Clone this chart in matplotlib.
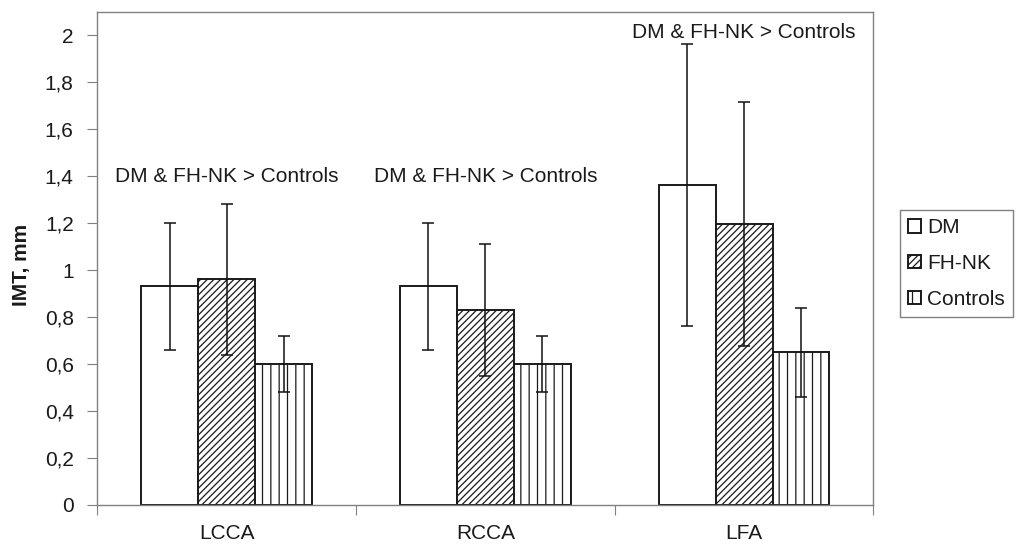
import numpy as np
import matplotlib
matplotlib.use("Agg")
import matplotlib.pyplot as plt

# values
sites = ["LCCA", "RCCA", "LFA"]
groups = ["DM", "FH-NK", "Controls"]
dm_mean = [0.93, 0.93, 1.36]
dm_err = [0.27, 0.27, 0.60]
fh_mean = [0.96, 0.83, 1.195]
fh_err = [0.32, 0.28, 0.52]
ctrl_mean = [0.60, 0.60, 0.65]
ctrl_err = [0.12, 0.12, 0.19]
note_text = "DM & FH-NK > Controls"
note_y = [1.376, 1.376, 1.988]
y_ticks = [0, 0.2, 0.4, 0.6, 0.8, 1.0, 1.2, 1.4, 1.6, 1.8, 2.0]
y_labels = ["0", "0,2", "0,4", "0,6", "0,8", "1", "1,2", "1,4", "1,6", "1,8", "2"]

plt.rcParams["font.family"] = ["Liberation Sans", "DejaVu Sans"]
plt.rcParams["font.size"] = 15
plt.rcParams["hatch.linewidth"] = 0.9
plt.rcParams["hatch.color"] = "#1a1a1a"

fig = plt.figure(figsize=(10.18, 5.46), dpi=100)
ax = fig.add_axes([0.0956, 0.0751, 0.7624, 0.9038])

x = np.arange(len(sites))
w = 0.22
means = [dm_mean, fh_mean, ctrl_mean]
errs = [dm_err, fh_err, ctrl_err]
hatches = ["", "/////", "||"]
offsets = [-w, 0, w]

for name, m, e, h, off in zip(groups, means, errs, hatches, offsets):
    ax.bar(x + off, m, width=w, color="white", edgecolor="#1a1a1a",
           linewidth=1.4, hatch=h, label=name, zorder=2)
    ax.errorbar(x + off, m, yerr=e, fmt="none", ecolor="#111111",
                elinewidth=1.1, capsize=4.3, capthick=1.1, zorder=3)

for xi, yi in zip(x, note_y):
    ax.text(xi, yi, note_text, ha="center", va="baseline", color="#1a1a1a")

ax.set_xlim(-0.5, 2.5)
ax.set_ylim(0, 2.1)
ax.set_yticks(y_ticks)
ax.set_yticklabels(y_labels)
ax.set_xticks([-0.5, 0.5, 1.5, 2.5])
ax.set_xticklabels([])
ax.set_xticks(x, minor=True)
ax.set_xticklabels(sites, minor=True)
ax.tick_params(axis="x", which="major", length=7, color="#808080", direction="out")
ax.tick_params(axis="x", which="minor", length=0, pad=14, colors="#1a1a1a")
ax.tick_params(axis="y", length=7, pad=10, color="#808080", labelcolor="#1a1a1a")
for sp in ax.spines.values():
    sp.set_color("#808080")
    sp.set_linewidth(1.0)

ax.set_ylabel("IMT, mm", fontweight="bold", color="#1a1a1a")
ax.yaxis.set_label_coords(-0.086, 0.486)

leg = fig.legend(loc="center left", bbox_to_anchor=(900 / 1018, 1 - 263.5 / 546),
                 borderaxespad=0, fancybox=False, edgecolor="#808080",
                 handlelength=0.6, handleheight=0.6, handletextpad=0.3,
                 labelspacing=0.8, borderpad=0.4, framealpha=1)
leg.get_frame().set_linewidth(1.0)
for t in leg.get_texts():
    t.set_color("#1a1a1a")

fig.savefig("out.png", dpi=100)
